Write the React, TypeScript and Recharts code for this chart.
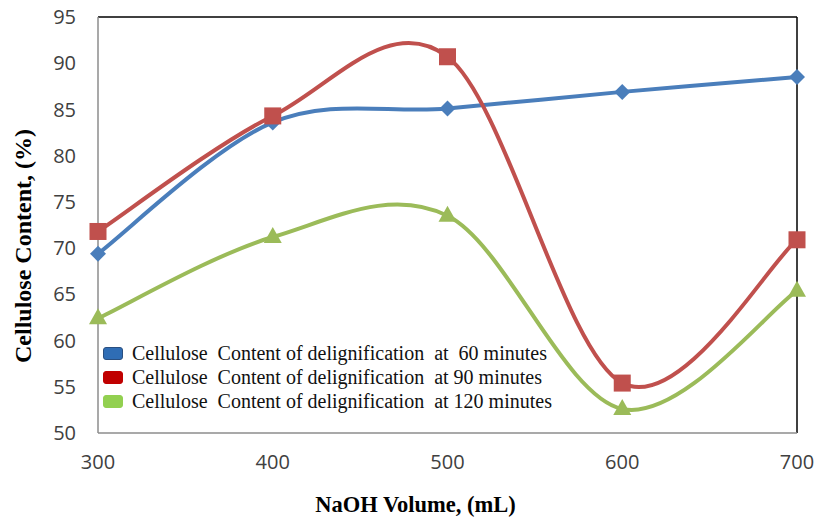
import React from "react";
import { LineChart, Line, XAxis, YAxis, ReferenceLine, Label } from "recharts";

const naohVolume = [300, 400, 500, 600, 700];
const cellulose60 = [69.4, 83.6, 85.1, 86.9, 88.5];
const cellulose90 = [71.8, 84.3, 90.7, 55.4, 70.9];
const cellulose120 = [62.4, 71.2, 73.5, 52.6, 65.4];
const yTicks = [50, 55, 60, 65, 70, 75, 80, 85, 90, 95];
const seriesNames = [
  "Cellulose  Content of delignification  at  60 minutes",
  "Cellulose  Content of delignification  at 90 minutes",
  "Cellulose  Content of delignification  at 120 minutes",
];
const xTitle = "NaOH Volume, (mL)";
const yTitle = "Cellulose Content, (%)";

const data = naohVolume.map((v, i) => ({
  x: v,
  s60: cellulose60[i],
  s90: cellulose90[i],
  s120: cellulose120[i],
}));

// Excel-like smoothed line (Catmull-Rom via cubic Bezier)
const smoothCurve: any = (context: any) => {
  let pts: number[][] = [];
  return {
    areaStart() {},
    areaEnd() {},
    lineStart() {
      pts = [];
    },
    point(x: number, y: number) {
      pts.push([+x, +y]);
    },
    lineEnd() {
      if (!pts.length) return;
      context.moveTo(pts[0][0], pts[0][1]);
      for (let i = 0; i < pts.length - 1; i++) {
        const p0 = pts[i - 1] || pts[i];
        const p1 = pts[i];
        const p2 = pts[i + 1];
        const p3 = pts[i + 2] || p2;
        context.bezierCurveTo(
          p1[0] + (p2[0] - p0[0]) / 6,
          p1[1] + (p2[1] - p0[1]) / 6,
          p2[0] - (p3[0] - p1[0]) / 6,
          p2[1] - (p3[1] - p1[1]) / 6,
          p2[0],
          p2[1]
        );
      }
    },
  };
};

const BLUE = "#4A7EBB";
const RED = "#C0504D";
const GREEN = "#9BBB59";

const Diamond = (props: any) => {
  const { cx, cy } = props;
  if (cx == null || cy == null) return null;
  const r = 8;
  return (
    <path
      d={`M${cx},${cy - r}L${cx + r},${cy}L${cx},${cy + r}L${cx - r},${cy}Z`}
      fill={BLUE}
    />
  );
};
const Square = (props: any) => {
  const { cx, cy } = props;
  if (cx == null || cy == null) return null;
  const r = 8.5;
  return <rect x={cx - r} y={cy - r} width={2 * r} height={2 * r} fill={RED} />;
};
const Triangle = (props: any) => {
  const { cx, cy } = props;
  if (cx == null || cy == null) return null;
  return (
    <path
      d={`M${cx},${cy - 10}L${cx + 9},${cy + 6}L${cx - 9},${cy + 6}Z`}
      fill={GREEN}
    />
  );
};

const legendKeys = [
  { color: "#2F6DB5", border: "#2A4F80" },
  { color: "#C00000", border: "#C00000" },
  { color: "#92D050", border: "#92D050" },
];

const XTitle = (props: any) => {
  const vb = props.viewBox || {};
  return (
    <text
      x={vb.x + vb.width / 2 - 32}
      y={vb.y + 79}
      textAnchor="middle"
      style={{ fontFamily: "Liberation Serif", fontWeight: "bold", fontSize: 22.5, fill: "#000" }}
    >
      {xTitle}
    </text>
  );
};

const YTitle = (props: any) => {
  const vb = props.viewBox || {};
  const cx = 23;
  const cy = vb.y + vb.height / 2 + 21;
  return (
    <text
      x={cx}
      y={cy}
      transform={`rotate(-90 ${cx} ${cy})`}
      textAnchor="middle"
      dominantBaseline="central"
      style={{ fontFamily: "Liberation Serif", fontWeight: "bold", fontSize: 24, fill: "#000" }}
    >
      {yTitle}
    </text>
  );
};

export default function App() {
  return (
    <div style={{ position: "absolute", left: 0, top: 0, width: 815, height: 518, background: "#fff" }}>
      <LineChart
        width={815}
        height={518}
        data={data}
        margin={{ top: 17, right: 18, bottom: 0, left: 0 }}
      >
        <XAxis
          dataKey="x"
          type="number"
          domain={[300, 700]}
          ticks={naohVolume}
          tickLine={false}
          tickSize={0}
          tickMargin={22}
          axisLine={{ stroke: "#8C8C8C", strokeWidth: 1.5 }}
          tick={{ fill: "#404040", fontSize: 20, fontFamily: "Open Sans" }}
          height={85}
        >
          <Label content={<XTitle />} />
        </XAxis>
        <YAxis
          type="number"
          domain={[50, 95]}
          ticks={yTicks}
          tickLine={false}
          tickSize={0}
          tickMargin={22}
          axisLine={{ stroke: "#8C8C8C", strokeWidth: 1.5 }}
          tick={{ fill: "#404040", fontSize: 20, fontFamily: "Open Sans" }}
          width={98}
        >
          <Label content={<YTitle />} />
        </YAxis>
        <ReferenceLine y={95} stroke="#000" strokeWidth={1.5} />
        <ReferenceLine x={700} stroke="#000" strokeWidth={1.5} />
        <Line
          dataKey="s60"
          type={smoothCurve}
          stroke={BLUE}
          strokeWidth={4}
          dot={<Diamond />}
          activeDot={false}
          isAnimationActive={false}
        />
        <Line
          dataKey="s90"
          type={smoothCurve}
          stroke={RED}
          strokeWidth={4}
          dot={<Square />}
          activeDot={false}
          isAnimationActive={false}
        />
        <Line
          dataKey="s120"
          type={smoothCurve}
          stroke={GREEN}
          strokeWidth={4}
          dot={<Triangle />}
          activeDot={false}
          isAnimationActive={false}
        />
      </LineChart>
      <div
        style={{
          position: "absolute",
          left: 103,
          top: 341,
          fontFamily: "Liberation Serif",
          fontSize: 20,
          color: "#111",
          lineHeight: "24px",
        }}
      >
        {seriesNames.map((name, i) => (
          <div key={i} style={{ display: "flex", alignItems: "center", height: 24 }}>
            <span
              style={{
                display: "inline-block",
                width: 18,
                height: 11,
                background: legendKeys[i].color,
                border: `1px solid ${legendKeys[i].border}`,
                borderRadius: 3,
                marginRight: 9,
              }}
            />
            <span style={{ whiteSpace: "pre" }}>{name}</span>
          </div>
        ))}
      </div>
    </div>
  );
}
